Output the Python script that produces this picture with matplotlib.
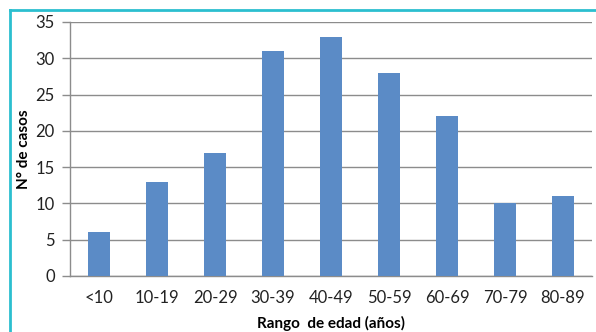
import matplotlib
matplotlib.use("Agg")
import matplotlib.pyplot as plt
from matplotlib.lines import Line2D

AGE_GROUPS = ["<10", "10-19", "20-29", "30-39", "40-49", "50-59", "60-69", "70-79", "80-89"]
CASES      = [6, 13, 17, 31, 33, 28, 22, 10, 11]
Y_TICKS    = [0, 5, 10, 15, 20, 25, 30, 35]

BAR_COLOR  = "#5b8bc6"
GRID_COLOR = "#8c8c8c"
FRAME_COLOR = "#2bbfcf"

plt.rcParams["font.family"] = ["Lato", "DejaVu Sans"]

fig = plt.figure(figsize=(5.96, 3.32), dpi=100)
ax = fig.add_axes([70 / 596, 56 / 332, 522 / 596, 254 / 332])

x = list(range(len(AGE_GROUPS)))
ax.bar(x, CASES, width=0.39, color=BAR_COLOR, zorder=3)

ax.set_xlim(-0.5, len(AGE_GROUPS) - 0.5)
ax.set_ylim(0, 35)
ax.set_yticks(Y_TICKS)
ax.set_xticks(x)
ax.set_xticklabels(AGE_GROUPS)
ax.tick_params(axis="x", length=0, pad=10, labelsize=12, colors="#222222")
ax.tick_params(axis="y", length=6, width=1, color=GRID_COLOR, pad=5,
               labelsize=12, labelcolor="#222222")
ax.grid(axis="y", color=GRID_COLOR, linewidth=1, zorder=0)

for side in ["top", "right"]:
    ax.spines[side].set_visible(False)
for side in ["left", "bottom"]:
    ax.spines[side].set_color(GRID_COLOR)
    ax.spines[side].set_linewidth(1)

ax.set_xlabel("Rango  de edad (años)", fontsize=11, fontweight="bold")
ax.set_ylabel("N° de casos", fontsize=11, fontweight="bold")
ax.xaxis.set_label_coords(0.5, -40 / 254)
ax.yaxis.set_label_coords(-39 / 522, 0.5)

# cyan frame on top and left edges
fig.add_artist(Line2D([9.5 / 596, 9.5 / 596], [0, 1 - 10 / 332],
                      transform=fig.transFigure, color=FRAME_COLOR, linewidth=2))
fig.add_artist(Line2D([9.5 / 596, 1], [1 - 10 / 332, 1 - 10 / 332],
                      transform=fig.transFigure, color=FRAME_COLOR, linewidth=2))

fig.savefig("out.png", dpi=100)
